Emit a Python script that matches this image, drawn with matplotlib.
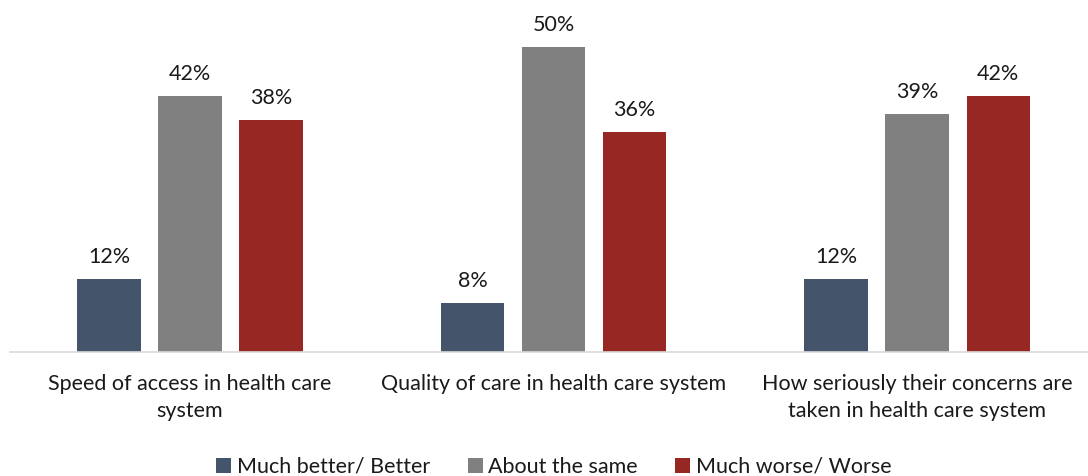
import numpy as np
import matplotlib.pyplot as plt

plt.rcParams['font.family'] = ['Lato', 'DejaVu Sans']

categories = [
    "Speed of access in health care\nsystem",
    "Quality of care in health care system",
    "How seriously their concerns are\ntaken in health care system",
]
series_names = ["Much better/ Better", "About the same", "Much worse/ Worse"]
better = [12, 8, 12]
same = [42, 50, 39]
worse = [38, 36, 42]
colors = ["#44546A", "#808080", "#962723"]

fig = plt.figure(figsize=(10.88, 4.76), dpi=100)
ax = fig.add_axes([10 / 1088, 124 / 476, 1 - 10 / 1088, 1 - 124 / 476])

x = np.arange(len(categories))
width = 0.174
step = 0.223

for i, (vals, name, col) in enumerate(zip([better, same, worse], series_names, colors)):
    pos = x + (i - 1) * step
    bars = ax.bar(pos, vals, width, color=col, label=name)
    for b, v in zip(bars, vals):
        ax.text(b.get_x() + b.get_width() / 2, v + 2.0, f"{v}%",
                ha="center", va="bottom", fontsize=15.5, color="#1a1a1a")

ax.set_xlim(-0.495, 2.47)
ax.set_ylim(0, 57.7)
ax.set_yticks([])
ax.set_xticks(x)
ax.set_xticklabels(categories, fontsize=15.5, color="#1a1a1a", linespacing=1.4)
ax.tick_params(axis="x", length=0, pad=16)
for s in ["top", "right", "left"]:
    ax.spines[s].set_visible(False)
ax.spines["bottom"].set_color("#D9D9D9")
ax.spines["bottom"].set_linewidth(1.2)

fig.legend(loc="lower center", bbox_to_anchor=(0.509, -0.042), ncol=3, frameon=False,
           fontsize=15.5, handlelength=0.7, handleheight=0.7, handletextpad=0.25,
           columnspacing=1.75, labelcolor="#1a1a1a")

fig.savefig("out.png", dpi=100)
